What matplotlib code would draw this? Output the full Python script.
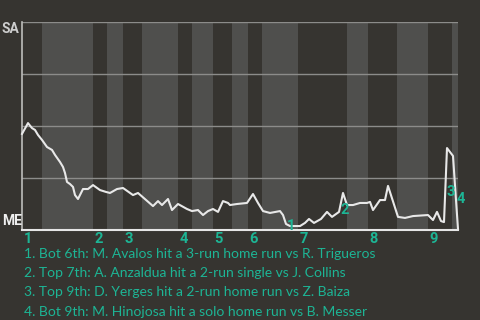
import matplotlib
matplotlib.use("Agg")
import matplotlib.pyplot as plt

# game progress (x) and win probability for SA (0 = ME wins, 1 = SA wins)
prog = [0, 6, 10, 13, 16, 20, 25, 30, 33, 38, 41, 43, 45, 48, 51, 53, 56, 61, 66, 71,
        78, 84, 88, 95, 101, 111, 116, 131, 136, 140, 146, 150, 156, 165, 170, 176, 181,
        186, 191, 196, 201, 206, 208, 215, 225, 231, 236, 241, 248, 258, 261, 264, 268,
        278, 283, 287, 292, 299, 305, 310, 317, 321, 325, 331, 338, 345, 348, 351, 358,
        363, 366, 376, 383, 391, 406, 411, 415, 419, 422, 425, 428, 431, 434, 436]
wp = [0.462, 0.514, 0.490, 0.481, 0.457, 0.433, 0.399, 0.385, 0.361, 0.327, 0.303, 0.274,
      0.231, 0.221, 0.207, 0.168, 0.149, 0.197, 0.197, 0.216, 0.192, 0.183, 0.178, 0.197,
      0.202, 0.168, 0.178, 0.115, 0.139, 0.120, 0.149, 0.096, 0.125, 0.101, 0.091, 0.096,
      0.072, 0.091, 0.101, 0.087, 0.139, 0.130, 0.120, 0.125, 0.130, 0.173, 0.130, 0.091,
      0.082, 0.091, 0.072, 0.029, 0.019, 0.019, 0.034, 0.053, 0.034, 0.053, 0.087, 0.063,
      0.087, 0.178, 0.120, 0.120, 0.130, 0.130, 0.135, 0.096, 0.144, 0.144, 0.212, 0.063,
      0.058, 0.067, 0.072, 0.048, 0.087, 0.043, 0.038, 0.394, 0.375, 0.356, 0.144, 0.005]

# half-inning boundaries
half_edges = [0, 20, 71, 85, 101, 120, 156, 170, 191, 210, 226, 240, 276, 325, 346,
              375, 406, 430, 436]
innings = ["1", "2", "3", "4", "5", "6", "7", "8", "9"]

# key plays: label position
ev_labels = ["1", "2", "3", "4"]
ev_x = [269, 323, 429, 439]
ev_y = [0.019, 0.096, 0.183, 0.149]
plays = [
    "1. Bot 6th: M. Avalos hit a 3-run home run vs R. Trigueros",
    "2. Top 7th: A. Anzaldua hit a 2-run single vs J. Collins",
    "3. Top 9th: D. Yerges hit a 2-run home run vs Z. Baiza",
    "4. Bot 9th: M. Hinojosa hit a solo home run vs B. Messer",
]

bg = "#363430"
band = "#4f4f4d"
teal = "#1db595"
bold_font = ["Roboto", "DejaVu Sans"]

plt.rcParams["font.family"] = ["Lato", "DejaVu Sans"]

fig = plt.figure(figsize=(4.8, 3.2), dpi=100, facecolor=bg)
ax = fig.add_axes([22 / 480, 90 / 320, 436 / 480, 208 / 320])
ax.set_facecolor(bg)
ax.set_xlim(0, 436)
ax.set_ylim(0, 1)

for i in range(len(half_edges) - 1):
    ax.axvspan(half_edges[i], half_edges[i + 1],
               color=bg if i % 2 == 0 else band, lw=0, zorder=0)

for g in [0.25, 0.5, 0.75, 1.0]:
    ax.axhline(g, color="#8c8c8a", lw=1, zorder=1)

for s in ax.spines.values():
    s.set_visible(False)
ax.plot([0, 0], [0, 1], color="#bdbdbb", lw=1.2, zorder=2, clip_on=False)
ax.plot([0, 436], [0, 0], color="#e6e6e6", lw=1.5, zorder=2, clip_on=False)
ax.set_xticks([])
ax.set_yticks([])

ax.plot(prog, wp, color="#e8e8e8", lw=1.5, zorder=3, clip_on=False)

for k, lab in enumerate(innings):
    ax.text(half_edges[2 * k] + 1.5, -0.045, lab, color=teal, fontsize=10.5,
            fontweight="bold", family=bold_font, ha="left", va="center",
            clip_on=False)

for lab, x, y in zip(ev_labels, ev_x, ev_y):
    ax.text(x, y, lab, color=teal, fontsize=10.5, fontweight="bold",
            family=bold_font, ha="center", va="center", zorder=4, clip_on=False)

fig.text(2 / 480, 1 - 29 / 320, "SA", color="#cdcdcd", fontsize=10,
         fontweight="bold", family=bold_font, ha="left", va="center")
fig.text(2 / 480, 1 - 221 / 320, "ME", color="#f0f0f0", fontsize=10,
         fontweight="bold", family=bold_font, ha="left", va="center")

for i, t in enumerate(plays):
    fig.text(24 / 480, 1 - (254 + 19.2 * i) / 320, t, color=teal, fontsize=10,
             ha="left", va="center")

fig.savefig("out.png", dpi=100, facecolor=bg)
